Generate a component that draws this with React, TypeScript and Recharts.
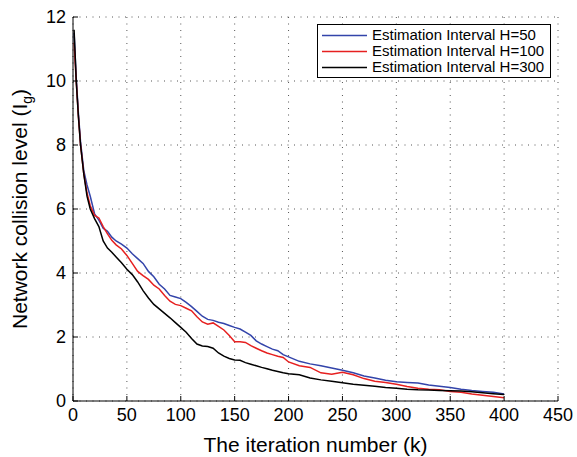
import { LineChart, Line, XAxis, YAxis, CartesianGrid, Legend, Label } from "recharts";

const iterations = [
  1, 3, 5, 7, 10, 13, 16, 20, 24, 28,
  32, 36, 40, 45, 50, 55, 60, 65, 70, 75,
  80, 85, 90, 95, 100, 105, 110, 115, 120, 125,
  130, 135, 140, 145, 150, 155, 160, 165, 170, 175,
  180, 185, 190, 195, 200, 210, 220, 230, 240, 250,
  260, 270, 280, 290, 300, 310, 320, 330, 340, 350,
  360, 370, 380, 390, 400,
];

const h50 = [
  11.5, 10.1, 9.0, 8.1, 7.2, 6.75, 6.4, 5.85, 5.65, 5.4,
  5.3, 5.12, 5.0, 4.9, 4.78, 4.6, 4.45, 4.3, 4.05, 3.88,
  3.65, 3.5, 3.3, 3.25, 3.2, 3.08, 2.95, 2.8, 2.65, 2.55,
  2.52, 2.46, 2.42, 2.36, 2.3, 2.25, 2.15, 2.05, 1.88, 1.78,
  1.7, 1.62, 1.57, 1.45, 1.38, 1.24, 1.16, 1.1, 1.03, 0.96,
  0.88, 0.78, 0.72, 0.65, 0.6, 0.58, 0.56, 0.5, 0.46, 0.42,
  0.37, 0.33, 0.3, 0.27, 0.22,
];

const h100 = [
  11.2, 10.0, 8.9, 8.0, 7.1, 6.5, 6.1, 5.8, 5.72, 5.45,
  5.22, 5.02, 4.88, 4.75, 4.55, 4.3, 4.05, 3.92, 3.8, 3.62,
  3.5, 3.3, 3.12, 3.02, 2.98, 2.9, 2.82, 2.63, 2.47, 2.4,
  2.44, 2.33, 2.22, 2.05, 1.85, 1.85, 1.83, 1.73, 1.65, 1.57,
  1.5, 1.45, 1.4, 1.36, 1.22, 1.1, 1.05, 0.88, 0.84, 0.9,
  0.82, 0.7, 0.62, 0.58, 0.52, 0.45, 0.4, 0.37, 0.35, 0.3,
  0.27, 0.22, 0.18, 0.14, 0.1,
];

const h300 = [
  11.6, 10.0, 8.9, 8.0, 7.1, 6.4, 6.0, 5.7, 5.45, 5.0,
  4.78, 4.65, 4.5, 4.32, 4.12, 3.95, 3.72, 3.45, 3.22, 3.02,
  2.88, 2.74, 2.6, 2.45, 2.3, 2.15, 1.95, 1.78, 1.72, 1.7,
  1.65, 1.5, 1.4, 1.33, 1.28, 1.27, 1.2, 1.15, 1.1, 1.05,
  1.01, 0.96, 0.92, 0.88, 0.85, 0.82, 0.72, 0.66, 0.62, 0.57,
  0.52, 0.49, 0.46, 0.42, 0.4, 0.37, 0.35, 0.34, 0.33, 0.32,
  0.31, 0.29, 0.26, 0.23, 0.2,
];

const seriesNames = [
  "Estimation Interval H=50",
  "Estimation Interval H=100",
  "Estimation Interval H=300",
];

const xTicks = [0, 50, 100, 150, 200, 250, 300, 350, 400, 450];
const yTicks = [0, 2, 4, 6, 8, 10, 12];

const data = iterations.map((k, i) => ({ k, h50: h50[i], h100: h100[i], h300: h300[i] }));

const FONT = "'Liberation Sans', Arial, Helvetica, sans-serif";

function YTitle(props: any) {
  const vb = props.viewBox || { x: 0, y: 17, width: 73, height: 384 };
  const cx = 26.5;
  const cy = vb.y + vb.height / 2;
  return (
    <text
      x={cx}
      y={cy}
      transform={`rotate(-90, ${cx}, ${cy})`}
      textAnchor="middle"
      fontSize={21}
      fontFamily={FONT}
      fill="#000"
    >
      Network collision level (I
      <tspan fontSize={14} dy={5}>g</tspan>
      <tspan dy={-5}>)</tspan>
    </text>
  );
}

function XTitle(props: any) {
  const vb = props.viewBox || { x: 73, y: 401, width: 485, height: 56 };
  return (
    <text x={vb.x + vb.width / 2} y={452} textAnchor="middle" fontSize={21} fontFamily={FONT} fill="#000">
      The iteration number (k)
    </text>
  );
}

function LegendBox(props: any) {
  const items = [...(props.payload || [])].sort(
    (a: any, b: any) => seriesNames.indexOf(a.value) - seriesNames.indexOf(b.value)
  );
  return (
    <div
      style={{
        border: "1px solid #000",
        background: "#fff",
        padding: "2px 0 2px 3px",
        fontFamily: FONT,
        fontSize: 15,
        lineHeight: "16px",
        width: 234,
        boxSizing: "border-box",
      }}
    >
      {items.map((it: any) => (
        <div key={it.value} style={{ display: "flex", alignItems: "center", height: 16, whiteSpace: "nowrap" }}>
          <svg width={51} height={16} style={{ flex: "none" }}>
            <line x1={1} x2={46} y1={8.5} y2={8.5} stroke={it.color} strokeWidth={1.6} />
          </svg>
          <span>{it.value}</span>
        </div>
      ))}
    </div>
  );
}

export default function App() {
  return (
    <div style={{ position: "absolute", left: 0, top: 0 }}>
      <LineChart width={577} height={457} data={data} margin={{ top: 17, right: 19, left: 0, bottom: 0 }}>
        <CartesianGrid stroke="#555" strokeDasharray="1 5.5" />
        <XAxis
          dataKey="k"
          type="number"
          domain={[0, 450]}
          ticks={xTicks}
          height={56}
          stroke="#000"
          tickSize={-5}
          tickMargin={12}
          tick={{ fill: "#000", fontSize: 18, fontFamily: FONT }}
          interval={0}
        >
          <Label content={<XTitle />} />
        </XAxis>
        <XAxis
          xAxisId="top"
          orientation="top"
          type="number"
          domain={[0, 450]}
          ticks={xTicks}
          height={0}
          stroke="#000"
          tickSize={-5}
          tickFormatter={() => ""}
          allowDataOverflow
        />
        <YAxis
          type="number"
          domain={[0, 12]}
          ticks={yTicks}
          width={73}
          stroke="#000"
          tickSize={-5}
          tickMargin={12}
          tick={{ fill: "#000", fontSize: 18, fontFamily: FONT }}
          interval={0}
        >
          <Label content={<YTitle />} />
        </YAxis>
        <YAxis
          yAxisId="right"
          orientation="right"
          type="number"
          domain={[0, 12]}
          ticks={yTicks}
          width={0}
          stroke="#000"
          tickSize={-5}
          tickFormatter={() => ""}
          allowDataOverflow
        />
        <Legend
          layout="vertical"
          align="center"
          verticalAlign="middle"
          wrapperStyle={{ left: 317, top: 24, width: 234 }}
          content={<LegendBox />}
        />
        <Line name={seriesNames[0]} dataKey="h50" stroke="#3344aa" strokeWidth={1.5} dot={false} type="linear" isAnimationActive={false} />
        <Line name={seriesNames[1]} dataKey="h100" stroke="#e62020" strokeWidth={1.5} dot={false} type="linear" isAnimationActive={false} />
        <Line name={seriesNames[2]} dataKey="h300" stroke="#000" strokeWidth={1.5} dot={false} type="linear" isAnimationActive={false} />
      </LineChart>
    </div>
  );
}
